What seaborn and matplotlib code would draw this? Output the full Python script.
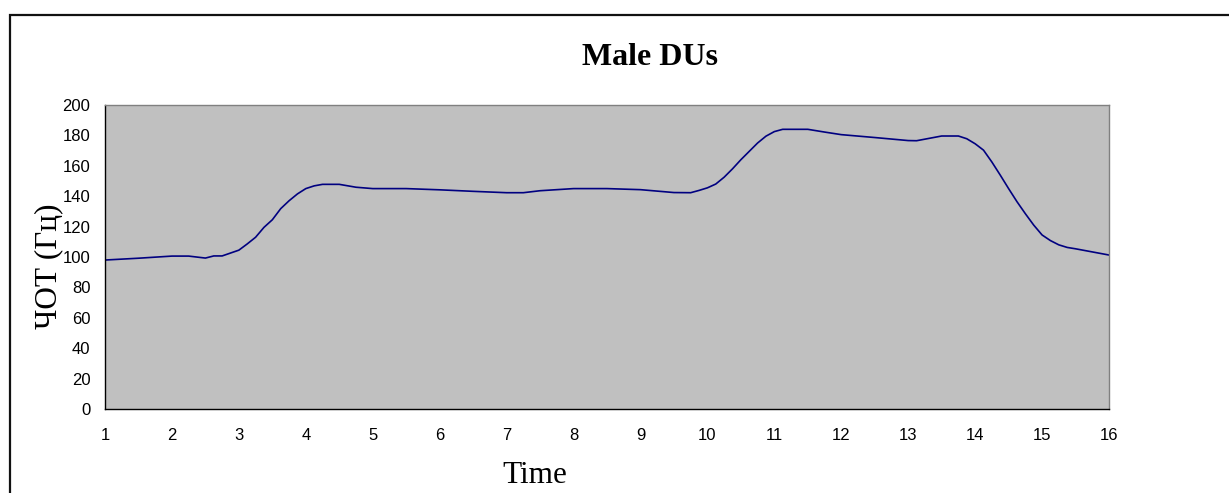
import pandas as pd
import seaborn as sns
import matplotlib.pyplot as plt
from matplotlib.patches import Rectangle

# --- data ---
time = [1.0, 1.5, 2.0, 2.25, 2.5, 2.625, 2.75, 3.0, 3.125, 3.25, 3.375, 3.5,
        3.625, 3.75, 3.875, 4.0, 4.125, 4.25, 4.5, 4.75, 5.0, 5.5, 6.0, 6.5,
        7.0, 7.25, 7.5, 8.0, 8.5, 9.0, 9.5, 9.75, 9.875, 10.0, 10.125, 10.25,
        10.375, 10.5, 10.625, 10.75, 10.875, 11.0, 11.125, 11.5, 11.75, 12.0,
        12.5, 13.0, 13.125, 13.5, 13.75, 13.875, 14.0, 14.125, 14.25, 14.375,
        14.5, 14.625, 14.75, 14.875, 15.0, 15.125, 15.25, 15.375, 15.5, 16.0]
f0 = [98.0, 99.2, 100.6, 100.6, 99.3, 100.7, 100.7, 104.5, 108.6, 113.0, 119.5, 124.5,
      131.8, 137.0, 141.5, 145.0, 146.8, 147.8, 147.8, 145.9, 145.0, 145.0, 144.2, 143.2,
      142.3, 142.3, 143.6, 145.0, 145.0, 144.3, 142.4, 142.3, 143.8, 145.5, 148.0, 152.5,
      158.0, 164.0, 169.5, 175.0, 179.5, 182.5, 184.0, 184.0, 182.2, 180.5,
      178.6, 176.6, 176.5, 179.6, 179.6, 177.8, 174.5, 170.3, 162.5, 153.9,
      145.0, 136.4, 128.5, 121.0, 114.5, 110.8, 108.0, 106.3, 105.4, 101.3]
x_ticks = list(range(1, 17))
y_ticks = list(range(0, 201, 20))

df = pd.DataFrame({"Time": time, "F0": f0})

sns.set_style("white")
plt.rcParams["font.family"] = ["Liberation Sans", "DejaVu Sans"]
plt.rcParams["text.color"] = "black"

fig = plt.figure(figsize=(12.29, 4.93), dpi=100)
ax = fig.add_axes([105 / 1229, 84 / 493, 1004 / 1229, 304 / 493])
ax.set_facecolor("#C0C0C0")

sns.lineplot(data=df, x="Time", y="F0", ax=ax, color="#000080",
             linewidth=1.2, sort=False, estimator=None)

ax.set_xlim(1, 16)
ax.set_ylim(0, 200)
ax.set_xticks(x_ticks)
ax.set_yticks(y_ticks)
ax.tick_params(axis="both", direction="inout", length=7, width=0.9,
               colors="black", labelsize=12)
ax.tick_params(axis="x", pad=10)
ax.tick_params(axis="y", pad=7)

for side in ["left", "bottom"]:
    ax.spines[side].set_color("black")
    ax.spines[side].set_linewidth(1.0)
for side in ["top", "right"]:
    ax.spines[side].set_color("#808080")
    ax.spines[side].set_linewidth(1.0)

serif = ["Liberation Serif", "DejaVu Serif"]
ax.set_title("Male DUs", family=serif, fontsize=23, fontweight="bold",
             color="black", pad=29, x=0.543)
ax.set_xlabel("Time", family=serif, fontsize=22.5, color="black")
ax.set_ylabel("ЧОТ (Гц)", family=serif, fontsize=22.5, color="black")
ax.xaxis.set_label_coords(0.428, -0.172)
ax.yaxis.set_label_coords(-0.042, 0.47)

# outer chart border (runs off the right and bottom edges)
fig.add_artist(Rectangle((10 / 1229, -0.5), 2.0, 0.5 + 1 - 15 / 493,
                         transform=fig.transFigure, fill=False,
                         edgecolor="#111111", linewidth=1.6))

fig.savefig("out.png", dpi=100)
